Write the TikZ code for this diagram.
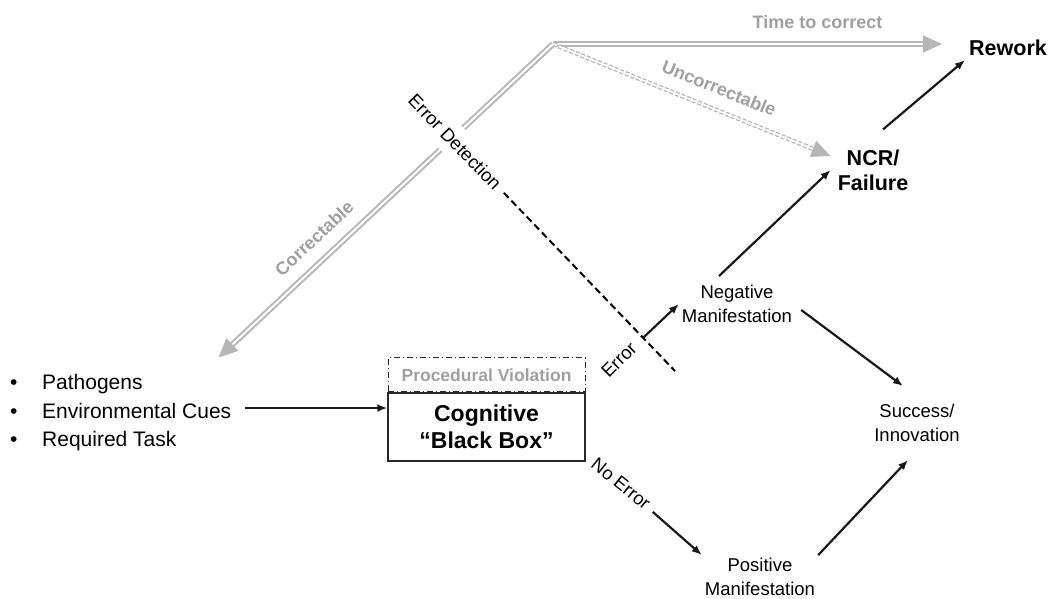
\documentclass[tikz,border=0pt]{standalone}
\usepackage{fontspec}
\setmainfont{Liberation Sans}
\usetikzlibrary{arrows.meta,calc}

\definecolor{pathgrey}{RGB}{182,182,182}
\definecolor{labelgrey}{RGB}{160,160,160}
\definecolor{boxline}{RGB}{40,40,40}

\begin{document}
\begin{tikzpicture}[x=1pt,y=-1pt,>=Latex,
  arr/.style={-{Latex[length=10pt,width=8pt]}, line width=2.2pt, draw=black!90},
  gline/.style={draw=pathgrey, line width=2pt, double=white, double distance=2pt,
    -{Triangle[length=19pt,width=17pt,fill=pathgrey]}},
  dline/.style={line width=2pt, dash pattern=on 7pt off 4pt},
  plain/.style={align=center, font=\fontsize{18.5}{24}\selectfont, inner sep=3pt},
  boldlbl/.style={align=center, font=\bfseries\fontsize{21.5}{25}\selectfont},
  glabel/.style={text=labelgrey, font=\bfseries\fontsize{18}{20}\selectfont, inner sep=2pt}]

  % Box dimensions
  \def\boxw{197}
  \def\boxh{68}

  \useasboundingbox (0,0) rectangle (1051,598);

  % Inputs
  \node[anchor=west, align=left, font=\fontsize{21}{28.5}\selectfont, inner sep=2pt] (inputs) at (8,413)
    {\makebox[32pt][l]{\textbullet}Pathogens\\
     \makebox[32pt][l]{\textbullet}Environmental Cues\\
     \makebox[32pt][l]{\textbullet}Required Task};

  % Black box
  \node[draw=boxline, line width=1.4pt, minimum width=\boxw, minimum height=\boxh,
    align=center, font=\bfseries\fontsize{23}{27}\selectfont] (cog) at (486.5,427)
    {Cognitive\\“Black Box”};
  \node[draw=boxline, line width=1pt, dash pattern=on 6pt off 3pt on 1pt off 3pt,
    minimum width=\boxw, minimum height=34, anchor=south, text=labelgrey,
    font=\bfseries\fontsize{17.5}{20}\selectfont] (proc) at (cog.north) {Procedural Violation};

  % Outcomes
  \node[plain] (neg) at (737,304) {Negative\\Manifestation};
  \node[plain] (pos) at (760,577) {Positive\\Manifestation};
  \node[plain, inner ysep=18pt] (succ) at (917,423) {Success/\\Innovation};
  \node[boldlbl, inner xsep=7pt, inner ysep=20pt] (ncr) at (873,170) {NCR/\\Failure};
  \node[boldlbl, inner sep=4pt] (rework) at (1008,48) {Rework};

  % Correction paths
  \coordinate (corner) at (553,44);
  \draw[gline] (corner) -- node[glabel, pos=0.68, above=12pt] {Time to correct}
    ([xshift=-23pt]corner -| rework.west);
  \draw[gline, line width=1.3pt, double distance=1.8pt, dash pattern=on 4pt off 2pt]
    (corner) -- node[glabel, sloped, above=12pt, pos=0.57] {Uncorrectable} ([yshift=14pt]ncr.west);
  \draw[gline] (corner) -- node[glabel, sloped, above=12pt, pos=0.67] {Correctable}
    ([xshift=-15pt,yshift=15pt]inputs.north east);

  % Error detection barrier
  \node[plain, rotate=-46, fill=white, inner xsep=8pt, inner ysep=9pt] (det) at (455,142) {Error Detection};
  \coordinate (detend) at (675,371);
  \draw[dline] (det) -- (detend);
  \coordinate (errstart) at ($(det.center)!0.855!(detend)$);

  \node[plain, rotate=45] (errlbl) at (619,360) {Error};
  \node[plain, rotate=-39] (noerr) at (621,484) {No Error};

  % Flow arrows
  \coordinate (inarrow) at ([xshift=12pt,yshift=5pt]inputs.east);
  \draw[arr] (inarrow) -- (inarrow -| cog.west);
  \draw[arr] (errstart) -- (neg.west);
  \draw[arr, shorten <=4pt] (noerr) -- (pos.north west);
  \draw[arr] ([xshift=-18pt,yshift=6pt]neg.north) -- (ncr.west);
  \draw[arr] ([xshift=6pt,yshift=-6pt]neg.east) -- ([xshift=-14pt]succ.north);
  \draw[arr] (pos.north east) -- ([xshift=-9pt]succ.south);
  \draw[arr] ([xshift=10pt]ncr.north) -- (rework.south west);

\end{tikzpicture}
\end{document}
